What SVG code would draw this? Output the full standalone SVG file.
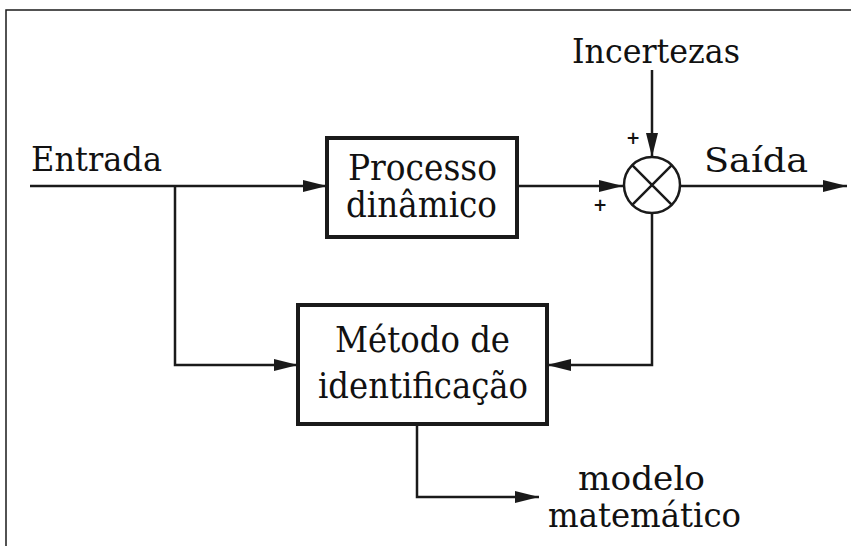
<svg xmlns="http://www.w3.org/2000/svg" width="851" height="546" viewBox="0 0 851 546">
<style>
.t{font-family:"DejaVu Serif","Liberation Serif",serif;font-size:34px;fill:#111}
.b{font-size:35px}
.box{fill:#fff;stroke:#1a1a1a;stroke-width:4}
.ln{fill:none;stroke:#1a1a1a;stroke-width:2.5}
.p{font-family:"DejaVu Sans",sans-serif;font-size:17px;font-weight:bold;fill:#111;text-anchor:middle}
</style>
<defs>
<marker id="ah" markerUnits="userSpaceOnUse" markerWidth="24" markerHeight="14" refX="24" refY="7" orient="auto">
<path d="M0,1 L24,7 L0,13 Z" fill="#1a1a1a"/>
</marker>
</defs>
<rect width="851" height="546" fill="#fff"/>
<path d="M6,546 V10 H851" fill="none" stroke="#1a1a1a" stroke-width="1.5"/>
<g id="connectors">
<path class="ln" d="M30,186 H327" marker-end="url(#ah)"/>
<path class="ln" d="M175,186 V365 H298" marker-end="url(#ah)"/>
<path class="ln" d="M517,186 H623" marker-end="url(#ah)"/>
<path class="ln" d="M652,70 V157" marker-end="url(#ah)"/>
<path class="ln" d="M680,186 H847" marker-end="url(#ah)"/>
<path class="ln" d="M652,214 V365 H547" marker-end="url(#ah)"/>
<path class="ln" d="M417,424 V497 H539" marker-end="url(#ah)"/>
</g>
<g id="processo">
<rect class="box" x="327" y="138" width="190" height="99"/>
<text class="t b" x="348" y="180" textLength="149" lengthAdjust="spacingAndGlyphs">Processo</text>
<text class="t b" x="346" y="217" textLength="151" lengthAdjust="spacingAndGlyphs">dinâmico</text>
</g>
<g id="metodo">
<rect class="box" x="298" y="305" width="249" height="119"/>
<text class="t b" x="335" y="352" textLength="175" lengthAdjust="spacingAndGlyphs">Método de</text>
<text class="t b" x="318" y="398" textLength="210" lengthAdjust="spacingAndGlyphs">identificação</text>
</g>
<g id="soma">
<circle cx="652" cy="185" r="28" fill="#fff" stroke="#1a1a1a" stroke-width="2.5"/>
<path class="ln" d="M632.2,165.2 L671.8,204.8 M671.8,165.2 L632.2,204.8"/>
<text class="p" x="633" y="144">+</text>
<text class="p" x="600" y="211">+</text>
</g>
<g id="labels">
<text class="t" x="31" y="171" textLength="131" lengthAdjust="spacingAndGlyphs">Entrada</text>
<text class="t" x="572" y="63" textLength="168" lengthAdjust="spacingAndGlyphs">Incertezas</text>
<text class="t" x="704" y="172" textLength="104" lengthAdjust="spacingAndGlyphs">Saída</text>
<text class="t" x="578" y="490" textLength="127" lengthAdjust="spacingAndGlyphs">modelo</text>
<text class="t" x="548" y="527" textLength="193" lengthAdjust="spacingAndGlyphs">matemático</text>
</g>
</svg>
